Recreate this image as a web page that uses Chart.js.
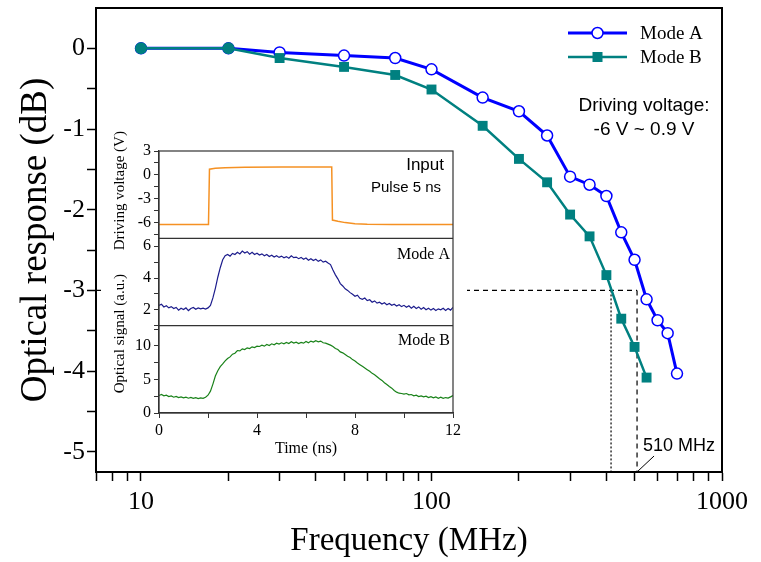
<!DOCTYPE html>
<html>
<head>
<meta charset="utf-8">
<script src="https://cdn.jsdelivr.net/npm/chart.js@4.4.1/dist/chart.umd.min.js"></script>
<style>
  body { margin: 0; background: #fff; }
  #wrap { position: relative; width: 761px; height: 562px; }
  #main { position: absolute; left: 0; top: 0; }
  #inset { position: absolute; left: 104px; top: 128px; background: #fff; }
</style>
</head>
<body>
<div id="wrap">
  <canvas id="main" width="761" height="562"></canvas>
  <canvas id="inset" width="363" height="333"></canvas>
</div>
<script>
// frequency response, main plot
const freqA = [10, 20, 30, 50, 75, 100, 150, 200, 250, 300, 350, 400, 450, 500, 550, 600, 650, 700];
const respA = [0, 0, -0.05, -0.09, -0.12, -0.26, -0.61, -0.78, -1.08, -1.59, -1.69, -1.83, -2.28, -2.62, -3.11, -3.37, -3.53, -4.03];
const freqB = [10, 20, 30, 50, 75, 100, 150, 200, 250, 300, 350, 400, 450, 500, 550];
const respB = [0, 0, -0.12, -0.23, -0.33, -0.51, -0.96, -1.37, -1.66, -2.06, -2.33, -2.81, -3.35, -3.70, -4.08];
const freqTicks = [7, 8, 9, 10, 20, 30, 40, 50, 60, 70, 80, 90, 100, 200, 300, 400, 500, 600, 700, 800, 900, 1000];
const freqLabels = [10, 100, 1000];
const respTicks = [-5, -4.5, -4, -3.5, -3, -2.5, -2, -1.5, -1, -0.5, 0];
const level3dB = -3;
const cutoffA = 510;   // MHz, marked
const cutoffB = 415;   // MHz, dotted line only

// inset: pulse response, sampled every 0.1 ns from 0 to 12 ns
const inputTime = [0, 2.02, 2.06, 2.3, 2.7, 3.5, 5.0, 7.05, 7.08, 7.3, 7.6, 8.0, 8.5, 9.5, 12];
const inputVolt = [-6.25, -6.25, 0.7, 0.82, 0.9, 0.96, 1.0, 1.0, -5.7, -5.85, -6.02, -6.15, -6.22, -6.25, -6.25];
const modeASignal = [
  2.28, 2.35, 2.18, 2.25, 2.12, 2.20, 2.08, 2.15, 1.98, 2.10, 2.02, 2.12, 1.95, 2.08, 2.15, 2.03, 2.12, 2.06, 2.10, 2.05,
  2.12, 2.28, 2.75, 3.35, 4.05, 4.65, 5.15, 5.40, 5.48, 5.38,
  5.55, 5.48, 5.62, 5.52, 5.70, 5.58, 5.66, 5.50, 5.62, 5.48,
  5.56, 5.45, 5.52, 5.40, 5.48, 5.36, 5.44, 5.32, 5.40, 5.30,
  5.38, 5.28, 5.35, 5.25, 5.40, 5.28, 5.32, 5.22, 5.30, 5.18,
  5.26, 5.12, 5.22, 5.10, 5.18, 5.05, 5.14, 5.00, 5.06, 4.95,
  4.85, 4.50, 4.20, 3.95, 3.65, 3.50, 3.32, 3.22, 3.08, 2.98,
  2.85, 2.92, 2.72, 2.66, 2.74, 2.58, 2.63, 2.48, 2.56, 2.42,
  2.48, 2.36, 2.44, 2.32, 2.40, 2.28, 2.35, 2.24, 2.32, 2.20,
  2.28, 2.16, 2.25, 2.10, 2.22, 2.08, 2.18, 2.04, 2.14, 2.00,
  2.10, 1.98, 2.08, 1.96, 2.06, 2.00, 2.10, 1.96, 2.08, 1.98, 2.15
];
const modeBSignal = [
  2.60, 2.75, 2.55, 2.65, 2.45, 2.55, 2.35, 2.48, 2.30, 2.40, 2.25, 2.35, 2.20, 2.32, 2.18, 2.28, 2.15, 2.25, 2.18, 2.35,
  2.65, 3.25, 4.30, 5.50, 6.30, 6.90, 7.30, 7.75, 8.10, 8.35,
  8.75, 8.90, 9.30, 9.25, 9.55, 9.45, 9.70, 9.60, 9.85, 9.75,
  9.95, 9.90, 10.10, 9.95, 10.20, 10.05, 10.30, 10.15, 10.40, 10.25,
  10.45, 10.30, 10.50, 10.35, 10.60, 10.40, 10.55, 10.35, 10.50, 10.40,
  10.65, 10.45, 10.70, 10.55, 10.75, 10.60, 10.70, 10.45, 10.40, 10.25,
  10.10, 9.90, 9.60, 9.45, 9.10, 8.95, 8.70, 8.45, 8.25, 7.95,
  7.75, 7.45, 7.20, 6.95, 6.70, 6.45, 6.20, 5.90, 5.70, 5.40,
  5.10, 4.85, 4.50, 4.25, 3.95, 3.70, 3.35, 3.10, 2.95, 2.90,
  2.80, 2.90, 2.70, 2.75, 2.55, 2.65, 2.45, 2.55, 2.40, 2.50,
  2.30, 2.42, 2.25, 2.38, 2.20, 2.35, 2.18, 2.30, 2.22, 2.40, 2.60
];
const timeTicks = [0, 2, 4, 6, 8, 10, 12];
const timeLabels = [0, 4, 8, 12];
const voltTicks = [-7.5, -6, -4.5, -3, -1.5, 0, 1.5, 3];
const voltLabels = [-6, -3, 0, 3];
const sigATicks = [1, 2, 3, 4, 5, 6];
const sigALabels = [2, 4, 6];
const sigBTicks = [0, 2.5, 5, 7.5, 10, 12.5];
const sigBLabels = [0, 5, 10];

const SERIF = "'Liberation Serif', 'Times New Roman', serif";
const SANS = "'Liberation Sans', Arial, sans-serif";
const BLUE = 'rgb(0,0,255)';
const TEAL = 'rgb(0,128,128)';

Chart.defaults.color = '#000';
Chart.defaults.font.family = SERIF;

const toXY = (xs, ys) => xs.map((x, i) => ({ x: x, y: ys[i] }));
const setTicks = list => s => { s.ticks = list.map(v => ({ value: v })); };
const onlyLabels = list => v => list.includes(v) ? String(v) : '';

// main chart decorations: box, legend, notes
const mainDeco = {
  id: 'mainDeco',
  afterDraw(chart) {
    const ctx = chart.ctx;
    const a = chart.chartArea;
    const xs = chart.scales.x;
    ctx.save();
    ctx.strokeStyle = '#000';
    ctx.lineWidth = 2;
    ctx.beginPath();
    ctx.moveTo(a.left, a.top); ctx.lineTo(a.right, a.top); ctx.lineTo(a.right, a.bottom);
    ctx.stroke();

    // legend
    const lx = 568, lw = 59;
    ctx.lineWidth = 3; ctx.strokeStyle = BLUE;
    ctx.beginPath(); ctx.moveTo(lx, 33); ctx.lineTo(lx + lw, 33); ctx.stroke();
    ctx.fillStyle = '#fff'; ctx.lineWidth = 1.5;
    ctx.beginPath(); ctx.arc(lx + lw / 2, 33, 5.5, 0, Math.PI * 2); ctx.fill(); ctx.stroke();
    ctx.lineWidth = 2.5; ctx.strokeStyle = TEAL;
    ctx.beginPath(); ctx.moveTo(lx, 57); ctx.lineTo(lx + lw, 57); ctx.stroke();
    ctx.fillStyle = TEAL;
    ctx.fillRect(lx + lw / 2 - 5, 52, 10, 10);
    ctx.fillStyle = '#000';
    ctx.font = '19px ' + SERIF;
    ctx.textBaseline = 'middle';
    ctx.textAlign = 'left';
    ctx.fillText('Mode A', 640, 34);
    ctx.fillText('Mode B', 640, 58);

    ctx.font = '19px ' + SANS;
    ctx.textAlign = 'center';
    ctx.fillText('Driving voltage:', 644, 106);
    ctx.fillText('-6 V ~ 0.9 V', 644, 130);

    // cutoff label
    const xc = xs.getPixelForValue(cutoffA);
    ctx.font = '18px ' + SANS;
    ctx.textAlign = 'left';
    ctx.fillText('510 MHz', xc + 6, 446);
    ctx.lineWidth = 1; ctx.strokeStyle = '#000';
    ctx.beginPath(); ctx.moveTo(xc + 1, a.bottom - 1); ctx.lineTo(xc + 17, a.bottom - 16); ctx.stroke();
    ctx.restore();
  }
};

new Chart(document.getElementById('main'), {
  type: 'line',
  data: {
    datasets: [
      {
        label: 'Mode B',
        data: toXY(freqB, respB),
        borderColor: TEAL,
        backgroundColor: TEAL,
        borderWidth: 2.5,
        pointStyle: c => c.dataIndex < 2 ? 'circle' : 'rect',
        pointRadius: c => c.dataIndex < 2 ? 6 : 7,
        pointBorderWidth: 0,
        pointBackgroundColor: TEAL,
        tension: 0
      },
      {
        label: 'Mode A',
        data: toXY(freqA, respA),
        borderColor: BLUE,
        borderWidth: 3,
        pointStyle: 'circle',
        pointRadius: 5.5,
        pointBackgroundColor: '#fff',
        pointBorderColor: BLUE,
        pointBorderWidth: 1.5,
        tension: 0
      },
      {
        data: [{ x: freqTicks[0], y: level3dB }, { x: cutoffA, y: level3dB }],
        borderColor: '#000', borderWidth: 1.2, borderDash: [5, 4], pointRadius: 0
      },
      {
        data: [{ x: cutoffA, y: level3dB }, { x: cutoffA, y: -5.25 }],
        borderColor: '#000', borderWidth: 1.2, borderDash: [5, 4], pointRadius: 0
      },
      {
        data: [{ x: cutoffB, y: level3dB }, { x: cutoffB, y: -5.25 }],
        borderColor: '#000', borderWidth: 1.2, borderDash: [2, 2], pointRadius: 0
      }
    ]
  },
  options: {
    responsive: false,
    animation: false,
    layout: { padding: { top: 8, right: 39, left: 0, bottom: 0 } },
    plugins: { legend: { display: false }, tooltip: { enabled: false } },
    scales: {
      x: {
        type: 'logarithmic',
        min: 7,
        max: 1000,
        afterBuildTicks: setTicks(freqTicks),
        afterFit: s => { s.height = 90; s.paddingLeft = 0; s.paddingRight = 0; },
        ticks: { callback: onlyLabels(freqLabels), autoSkip: false, maxRotation: 0, padding: 6, font: { size: 26 } },
        grid: { drawOnChartArea: false, tickLength: 9, tickWidth: 1.5, tickColor: '#000' },
        border: { color: '#000', width: 2 },
        title: { display: true, text: 'Frequency (MHz)', font: { size: 33 }, padding: { top: 0, bottom: 1 } }
      },
      y: {
        type: 'linear',
        min: -5.25,
        max: 0.5,
        afterBuildTicks: setTicks(respTicks),
        afterFit: s => { s.width = 96; s.paddingTop = 0; s.paddingBottom = 0; },
        ticks: { callback: onlyLabels([0, -1, -2, -3, -4, -5]), autoSkip: false, padding: 2, font: { size: 26 } },
        grid: { drawOnChartArea: false, tickLength: 9, tickWidth: 1.5, tickColor: '#000' },
        border: { color: '#000', width: 2 },
        title: { display: true, text: 'Optical response (dB)', font: { size: 37 }, padding: { top: 14, bottom: 0 } }
      }
    }
  },
  plugins: [mainDeco]
});

// inset decorations
const insetDeco = {
  id: 'insetDeco',
  afterDraw(chart) {
    const ctx = chart.ctx;
    const a = chart.chartArea;
    const { yIn, yA, yB } = chart.scales;
    ctx.save();
    ctx.strokeStyle = '#333';
    ctx.lineWidth = 1.2;
    ctx.strokeRect(a.left, a.top, a.right - a.left, a.bottom - a.top);
    ctx.beginPath();
    ctx.moveTo(a.left, yA.top); ctx.lineTo(a.right, yA.top);
    ctx.moveTo(a.left, yB.top); ctx.lineTo(a.right, yB.top);
    ctx.stroke();

    ctx.fillStyle = '#000';
    ctx.textBaseline = 'middle';
    ctx.textAlign = 'right';
    ctx.font = '17px ' + SANS;
    ctx.fillText('Input', a.right - 9, yIn.top + 14);
    ctx.font = '15px ' + SANS;
    ctx.fillText('Pulse 5 ns', a.right - 12, yIn.top + 37);
    ctx.font = '16px ' + SERIF;
    ctx.fillText('Mode A', a.right - 3, yA.top + 16);
    ctx.fillText('Mode B', a.right - 3, yB.top + 15);

    // axis titles, rotated
    ctx.textAlign = 'center';
    ctx.font = '15px ' + SERIF;
    ctx.save();
    ctx.translate(16, (yIn.top + yIn.bottom) / 2 - 4);
    ctx.rotate(-Math.PI / 2);
    ctx.fillText('Driving voltage (V)', 0, 0);
    ctx.restore();
    ctx.save();
    ctx.translate(16, (yA.top + yB.bottom) / 2 + 8);
    ctx.rotate(-Math.PI / 2);
    ctx.fillText('Optical signal (a.u.)', 0, 0);
    ctx.restore();
    ctx.restore();
  }
};

const insetY = (min, max, ticks, labels) => ({
  type: 'linear',
  position: 'left',
  stack: 'inset',
  stackWeight: 1,
  min: min,
  max: max,
  afterBuildTicks: setTicks(ticks),
  afterFit: s => { s.width = 55; s.paddingTop = 0; s.paddingBottom = 0; },
  ticks: { callback: onlyLabels(labels), autoSkip: false, padding: 3, font: { size: 16 } },
  grid: { drawOnChartArea: false, tickLength: 5, tickColor: '#333' },
  border: { color: '#333', width: 1.2 }
});

const timeNs = modeASignal.map((_, i) => i / 10);

new Chart(document.getElementById('inset'), {
  type: 'line',
  data: {
    datasets: [
      { data: toXY(inputTime, inputVolt), yAxisID: 'yIn', borderColor: 'rgb(245,145,35)', borderWidth: 1.5, pointRadius: 0, tension: 0 },
      { data: toXY(timeNs, modeASignal), yAxisID: 'yA', borderColor: 'rgb(28,28,140)', borderWidth: 1.2, pointRadius: 0, tension: 0 },
      { data: toXY(timeNs, modeBSignal), yAxisID: 'yB', borderColor: 'rgb(25,130,25)', borderWidth: 1.2, pointRadius: 0, tension: 0 }
    ]
  },
  options: {
    responsive: false,
    animation: false,
    layout: { padding: { top: 23, right: 14, left: 0, bottom: 0 } },
    plugins: { legend: { display: false }, tooltip: { enabled: false } },
    scales: {
      x: {
        type: 'linear',
        min: 0,
        max: 12,
        afterBuildTicks: setTicks(timeTicks),
        afterFit: s => { s.height = 48; s.paddingLeft = 0; s.paddingRight = 0; },
        ticks: { callback: onlyLabels(timeLabels), autoSkip: false, maxRotation: 0, padding: 3, font: { size: 16 } },
        grid: { drawOnChartArea: false, tickLength: 5, tickColor: '#333' },
        border: { color: '#333', width: 1.2 },
        title: { display: true, text: 'Time (ns)', font: { size: 16 }, padding: { top: 0, bottom: 3 } }
      },
      yB: insetY(0, 13, sigBTicks, sigBLabels),
      yA: insetY(1, 6.5, sigATicks, sigALabels),
      yIn: insetY(-8, 3, voltTicks, voltLabels)
    }
  },
  plugins: [insetDeco]
});
</script>
</body>
</html>
